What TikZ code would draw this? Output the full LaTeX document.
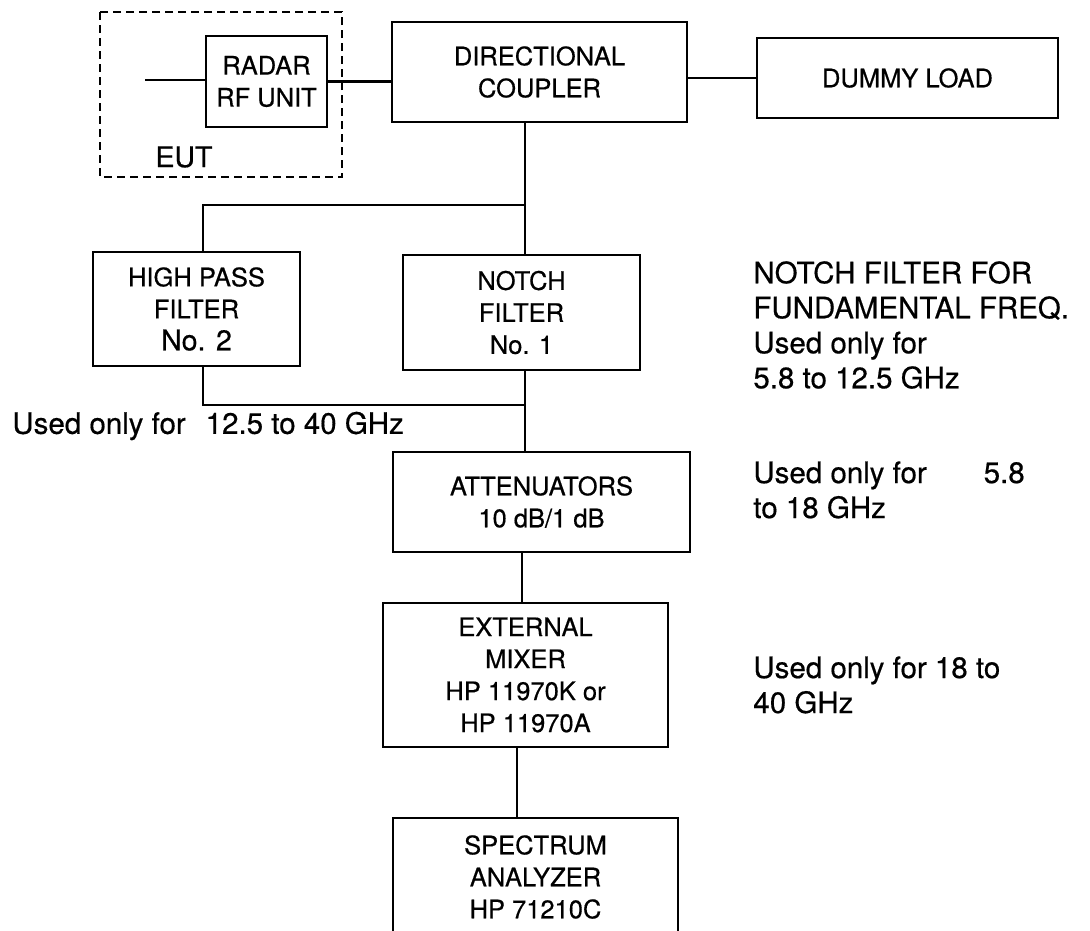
\documentclass[tikz,border=0pt]{standalone}
\usepackage{fontspec}
\setmainfont{TeX Gyre Heros}[FakeBold=0.5]
\usetikzlibrary{calc}

\tikzset{
  blk/.style={draw, line width=2.8pt, align=center, inner sep=0pt,
    font=\fontsize{25.5}{32}\selectfont},
  note/.style={align=left, anchor=west, inner sep=0pt,
    font=\fontsize{29.5}{35}\selectfont},
}

\begin{document}
\begin{tikzpicture}[x=1pt, y=-1pt, line width=2.8pt]
\useasboundingbox (0,0) rectangle (1090,930);
\clip (0,0) rectangle (1090,930);

\node [blk, minimum width=121pt, minimum height=91pt] (radar) at (266.5,81.5) {RADAR\\RF UNIT};
\node [blk, minimum width=295pt, minimum height=100pt] (coupler) at (539.5,72) {DIRECTIONAL\\COUPLER};
\node [blk, minimum width=301pt, minimum height=80pt] (dummy) at (907.5,78) {DUMMY LOAD};
\node [blk, minimum width=207pt, minimum height=114pt] (hpf) at (196.5,309) {HIGH PASS\\FILTER\\{\fontsize{28.5}{32}\selectfont No. 2}};
\node [blk, minimum width=237pt, minimum height=115pt] (notch) at (521.5,312.5) {NOTCH\\FILTER\\No. 1};
\node [blk, minimum width=297pt, minimum height=100pt] (atten) at (541.5,502) {ATTENUATORS\\10 dB/1 dB};
\node [blk, minimum width=285pt, minimum height=144pt] (mixer) at (525.5,675) {EXTERNAL\\MIXER\\HP 11970K or\\HP 11970A};
\node [blk, minimum width=285pt, minimum height=118pt] (analyzer) at (535.5,877) {SPECTRUM\\ANALYZER\\HP 71210C};

% equipment under test
\draw [dashed, dash pattern=on 8pt off 5pt] (100,12) rectangle (342,177);
\node [font=\fontsize{28.5}{32}\selectfont, inner sep=0pt] (eut) at (184,157) {EUT};

\coordinate (feed) at (145,80);
\coordinate (jtop) at (525,205);
\coordinate (jleft) at (203,205);
\coordinate (jhpf) at (203,405);
\coordinate (jbot) at (525,405);
\coordinate (dropa) at (522,0);
\coordinate (dropb) at (517,0);

\draw (feed) -- (feed -| radar.west);
\draw (radar.east) -- (radar.east -| coupler.west);
\draw (coupler.east |- dummy.west) -- (dummy.west);
\draw (coupler.south -| jtop) -- (jtop) -- (notch.north -| jtop);
\draw (jtop) -- (jleft) -- (hpf.north -| jleft);
\draw (hpf.south -| jhpf) -- (jhpf) -- (jbot);
\draw (notch.south -| jbot) -- (atten.north -| jbot);
\draw (atten.south -| dropa) -- (mixer.north -| dropa);
\draw (mixer.south -| dropb) -- (analyzer.north -| dropb);

% usage notes
\node [note] (nhpf) at (11,426) {Used only for\hspace{20pt}12.5 to 40 GHz};
\node [note] (nnotch) at (752,325) {NOTCH FILTER FOR\\FUNDAMENTAL FREQ.\\Used only for\\5.8 to 12.5 GHz};
\node [note] (natten) at (752,490) {Used only for\hspace{57pt}5.8\\to 18 GHz};
\node [note] (nmixer) at (752,685) {Used only for 18 to\\40 GHz};
\end{tikzpicture}
\end{document}
